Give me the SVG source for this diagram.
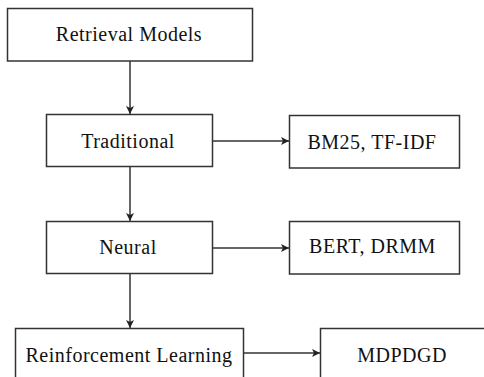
<svg xmlns="http://www.w3.org/2000/svg" width="484" height="377" viewBox="0 0 484 377">
<defs>
<style>
.box{fill:#fff;stroke:#333;stroke-width:1.5}
.lbl{font-family:"Liberation Serif","Times New Roman",serif;font-size:20px;letter-spacing:0.5px;fill:#111;text-anchor:middle}
.edge{stroke:#333;stroke-width:1.5;fill:none}
</style>
<marker id="ah" markerWidth="9" markerHeight="9" refX="8" refY="4.5" orient="auto" markerUnits="userSpaceOnUse">
<path d="M0,0.5 L8,4.5 L0,8.5 L2,4.5 Z" fill="#222"/>
</marker>
</defs>
<rect width="484" height="377" fill="#fff"/>
<g id="connectors">
<line class="edge" x1="130" y1="61" x2="130" y2="114" marker-end="url(#ah)"/>
<line class="edge" x1="212" y1="141" x2="289" y2="141" marker-end="url(#ah)"/>
<line class="edge" x1="130" y1="166" x2="130" y2="221" marker-end="url(#ah)"/>
<line class="edge" x1="212" y1="248" x2="289" y2="248" marker-end="url(#ah)"/>
<line class="edge" x1="130" y1="273" x2="130" y2="328" marker-end="url(#ah)"/>
<line class="edge" x1="243" y1="353" x2="320" y2="353" marker-end="url(#ah)"/>
</g>
<g id="retrieval-models">
<rect class="box" x="7.5" y="8.5" width="245" height="52.5"/>
<text class="lbl" x="129" y="41">Retrieval Models</text>
</g>
<g id="traditional">
<rect class="box" x="46.5" y="114.5" width="166" height="52"/>
<text class="lbl" x="128" y="148">Traditional</text>
</g>
<g id="bm25">
<rect class="box" x="289.5" y="115.5" width="170" height="52.5"/>
<text class="lbl" x="372" y="149">BM25, TF-IDF</text>
</g>
<g id="neural">
<rect class="box" x="46.5" y="221.5" width="166" height="52"/>
<text class="lbl" x="128" y="254">Neural</text>
</g>
<g id="bert">
<rect class="box" x="289.5" y="221.5" width="170" height="52.5"/>
<text class="lbl" x="372.5" y="253">BERT, DRMM</text>
</g>
<g id="reinforcement-learning">
<rect class="box" x="15.5" y="328.5" width="228" height="60"/>
<text class="lbl" x="129" y="362">Reinforcement Learning</text>
</g>
<g id="mdpdgd">
<rect class="box" x="320.5" y="328.5" width="180" height="60"/>
<text class="lbl" x="402" y="362">MDPDGD</text>
</g>
</svg>
